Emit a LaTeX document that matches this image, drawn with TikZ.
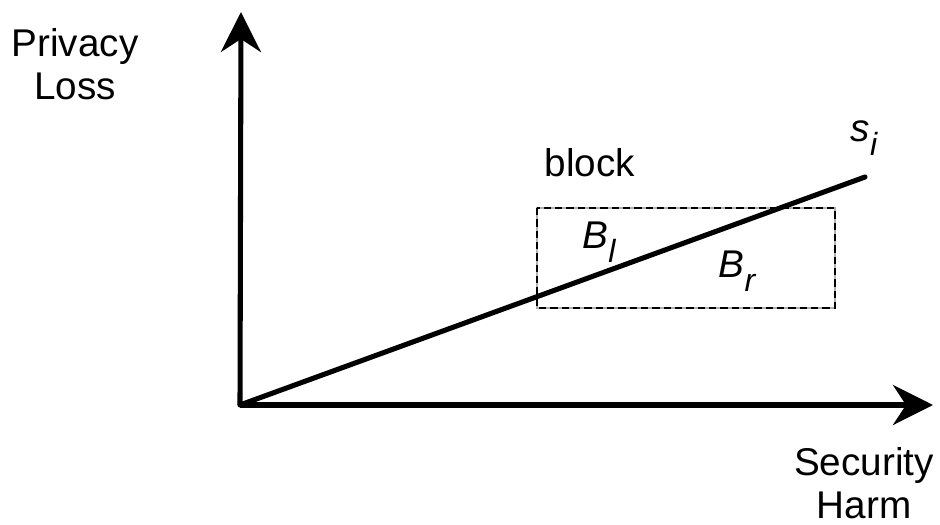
\documentclass[tikz,border=0pt]{standalone}
\usepackage{fontspec}
\setmainfont{Liberation Sans}
\usepackage{tikz}
\usetikzlibrary{arrows.meta, calc}

\newcommand{\subtxt}[2]{\textit{#1\raisebox{-0.35em}{\fontsize{24}{24}\selectfont #2}}}

\begin{document}
\begin{tikzpicture}[x=0.75pt, y=-0.75pt, font=\fontsize{29}{32}\selectfont]
\useasboundingbox (0,0) rectangle (940,525);
\coordinate (O) at (240,405);
\coordinate (ytop) at (241,12);
\coordinate (xend) at (933,405);
\coordinate (send) at (865,177);
\draw[-{Stealth[length=30pt, width=30pt]}, line width=3.8pt] (O) -- (ytop);
\draw[-{Stealth[length=30pt, width=30pt]}, line width=3.8pt] (O) -- (xend);
\draw[gray!60, line width=1.2pt] (537,208) rectangle (835,308);
\draw[dash pattern=on 5.5pt off 3pt, line width=1pt] (537,208) rectangle (835,308);
\draw[line width=3.8pt, line cap=round] (O) -- (send);
\node[align=center] (ylabel) at (75,64) {Privacy\\Loss};
\node[align=center] (xlabel) at (864,483) {Security\\Harm};
\node (block) at (590,163) {block};
\node (si) at (864,138) {\subtxt{s}{i}};
\node (bl) at (599,242) {\subtxt{B}{l}};
\node (br) at (737,271) {\subtxt{B}{r}};
\end{tikzpicture}
\end{document}
